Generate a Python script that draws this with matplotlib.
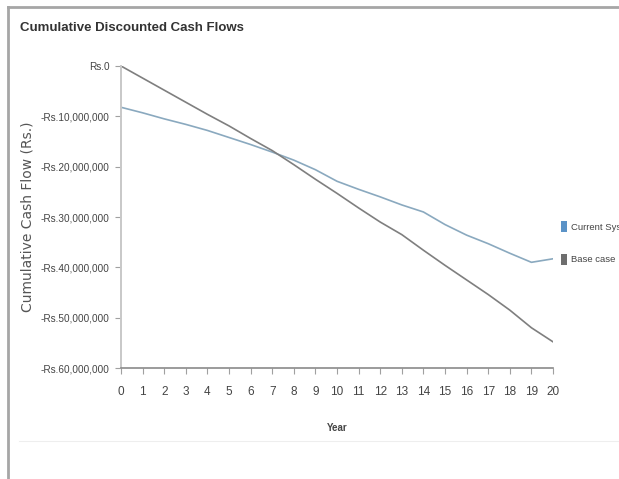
import matplotlib.pyplot as plt
from matplotlib.lines import Line2D
from matplotlib.patches import Patch
from matplotlib.ticker import FuncFormatter

# ---------------------------------------------------------------------------
#  Data (Rs. millions)
# ---------------------------------------------------------------------------
years = list(range(0, 21))
current_system = [-8.2, -9.3, -10.5, -11.6, -12.8, -14.2, -15.6, -17.1, -18.7, -20.6,
                  -22.9, -24.5, -26.0, -27.6, -29.0, -31.5, -33.6, -35.3, -37.2, -39.0, -38.3]
base_case = [0.0, -2.4, -4.8, -7.2, -9.6, -11.9, -14.4, -16.8, -19.6, -22.5,
             -25.3, -28.2, -31.0, -33.5, -36.6, -39.6, -42.5, -45.4, -48.5, -52.0, -54.8]
series_names = ["Current System", "Base case"]
y_ticks = [0, -10, -20, -30, -40, -50, -60]

NARROW = ["Liberation Sans", "DejaVu Sans"]


def rs_fmt(v, pos):
    """Format millions as Rs. currency label."""
    if v == 0:
        return "Rs.0"
    sign = "-" if v < 0 else ""
    return f"{sign}Rs.{abs(v) * 1e6:,.0f}"


fig = plt.figure(figsize=(6.19, 4.79), dpi=100)
ax = fig.add_axes([0.1955, 0.2317, 0.6979, 0.6305])

ax.plot(years, current_system, color="#8aa9bf", lw=1.2)
ax.plot(years, base_case, color="#7f7f7f", lw=1.2)

ax.set_xlim(0, 20)
ax.set_ylim(-60, 0)
ax.set_xticks(years)
ax.set_yticks(y_ticks)
ax.yaxis.set_major_formatter(FuncFormatter(rs_fmt))

for s in ("top", "right"):
    ax.spines[s].set_visible(False)
ax.spines["left"].set_color("#c8c8c8")
ax.spines["left"].set_linewidth(1.4)
ax.spines["bottom"].set_color("#8a8a8a")
ax.spines["bottom"].set_linewidth(1.2)
ax.tick_params(axis="both", length=4, color="#a0a0a0", labelcolor="#444444")
ax.tick_params(axis="y", pad=4)
ax.tick_params(axis="x", pad=9)
for lab in ax.get_xticklabels():
    lab.set_family(NARROW)
    lab.set_fontsize(8.5)
for lab in ax.get_yticklabels():
    lab.set_family(NARROW)
    lab.set_fontsize(7.2)

ax.set_ylabel("Cumulative Cash Flow (Rs.)", fontsize=10, color="#555555")
ax.yaxis.set_label_coords(-0.2, 0.5)
ax.set_xlabel("Year", fontsize=7, color="#444444", fontweight="bold", labelpad=18,
              family=NARROW)

fig.text(0.032, 0.935, "Cumulative Discounted Cash Flows", fontsize=9.5,
         fontweight="bold", color="#333333", family=NARROW)

handles = [Patch(facecolor="#5b93c7", edgecolor="none"),
           Patch(facecolor="#6e6e6e", edgecolor="none")]
leg = fig.legend(handles, series_names, loc="upper left", bbox_to_anchor=(0.893, 0.556),
                 frameon=False, handlelength=0.6, handleheight=1.4, handletextpad=0.4,
                 labelspacing=2.3, prop={"family": NARROW, "size": 6.8})
for t in leg.get_texts():
    t.set_color("#444444")

# outer frame of the screenshot
fig.add_artist(Line2D([0.013, 1.0], [0.986, 0.986], color="#a6a6a6", lw=2))
fig.add_artist(Line2D([0.013, 0.013], [0.0, 0.986], color="#a6a6a6", lw=2))
fig.add_artist(Line2D([0.03, 1.0], [0.079, 0.079], color="#eeeeee", lw=0.8))

fig.savefig("out.png", dpi=100)
